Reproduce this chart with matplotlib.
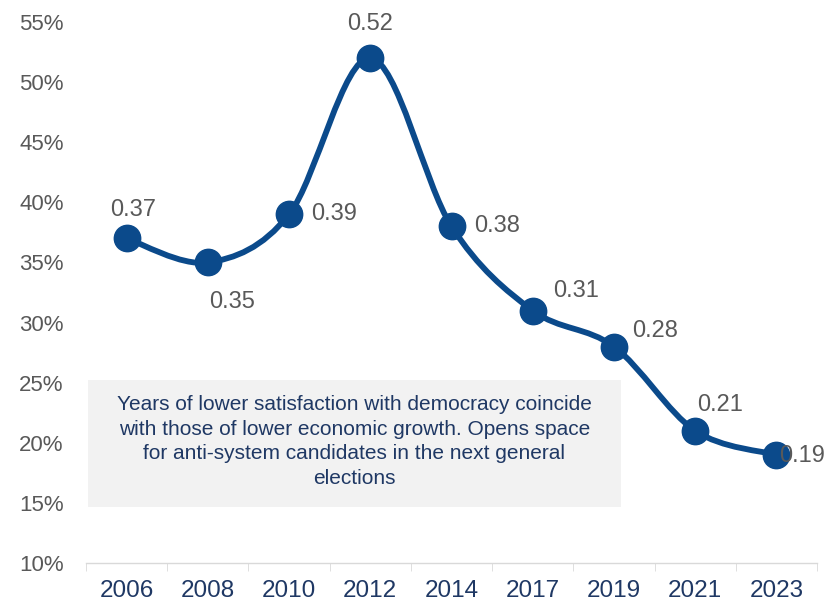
import numpy as np
import matplotlib
matplotlib.use("Agg")
import matplotlib.pyplot as plt
from matplotlib.path import Path
from matplotlib.patches import PathPatch, Rectangle
from matplotlib.ticker import FuncFormatter, MultipleLocator

# Datos
years = ["2006", "2008", "2010", "2012", "2014", "2017", "2019", "2021", "2023"]
values = [0.37, 0.35, 0.39, 0.52, 0.38, 0.31, 0.28, 0.21, 0.19]
note = ("Years of lower satisfaction with democracy coincide\n"
        "with those of lower economic growth. Opens space\n"
        "for anti-system candidates in the next general\n"
        "elections")

# posiciones de las etiquetas (offset en pixeles) y alineacion
label_off = [(6, 28), (24, -40), (22, 0), (0, 34), (23, 0), (20, 20), (18, 16), (25, 26), (3, -1)]
label_ha = ["center", "center", "left", "center", "left", "left", "left", "center", "left"]

navy = "#0B4A8B"
gray = "#595959"
textnavy = "#1F3864"

plt.rcParams["font.family"] = ["Liberation Sans", "DejaVu Sans"]

fig = plt.figure(figsize=(8.4, 6.03), dpi=100)
ax = fig.add_axes([0.1024, 0.0663, 0.8702, 0.8972])

x = np.arange(len(years))
y = np.array(values)

# linea suavizada (bezier tipo excel)
xp = np.concatenate([[x[0]], x, [x[-1]]])
yp = np.concatenate([[y[0]], y, [y[-1]]])
verts = [(x[0], y[0])]
codes = [Path.MOVETO]
for i in range(len(x) - 1):
    p0 = np.array([xp[i], yp[i]])
    p1 = np.array([xp[i + 1], yp[i + 1]])
    p2 = np.array([xp[i + 2], yp[i + 2]])
    p3 = np.array([xp[i + 3], yp[i + 3]])
    c1 = p1 + (p2 - p0) / 6
    c2 = p2 - (p3 - p1) / 6
    verts += [tuple(c1), tuple(c2), tuple(p2)]
    codes += [Path.CURVE4] * 3
ax.add_patch(PathPatch(Path(verts, codes), facecolor="none", edgecolor=navy,
                       lw=4.2, capstyle="round", joinstyle="round", zorder=3))
ax.plot(x, y, "o", color=navy, markersize=19, zorder=4)

for i in range(len(x)):
    ax.annotate(f"{values[i]:.2f}", (x[i], y[i]), xytext=label_off[i],
                textcoords="offset pixels", ha=label_ha[i], va="center",
                fontsize=17, color=gray, zorder=5)

# caja de texto
ax.add_patch(Rectangle((0.003, 0.1035), 0.729, 0.2345, transform=ax.transAxes,
                       facecolor="#F2F2F2", edgecolor="none", zorder=1))
ax.text(0.367, 0.2246, note, transform=ax.transAxes, ha="center", va="center",
        fontsize=15, color=textnavy, linespacing=1.38, zorder=2)

ax.set_xlim(-0.5, 8.5)
ax.set_ylim(0.10, 0.55)
ax.yaxis.set_major_locator(MultipleLocator(0.05))
ax.yaxis.set_major_formatter(FuncFormatter(lambda v, p: f"{v * 100:.0f}%"))
ax.set_xticks(x)
ax.set_xticklabels(years)
ax.set_xticks(np.arange(-0.5, 9, 1), minor=True)
ax.tick_params(axis="x", which="major", length=0, labelsize=17.5, labelcolor=textnavy, pad=12)
ax.tick_params(axis="x", which="minor", length=6, color="#D9D9D9")
ax.tick_params(axis="y", length=0, labelsize=16, labelcolor=gray, pad=16)

for s in ["top", "right", "left"]:
    ax.spines[s].set_visible(False)
ax.spines["bottom"].set_color("#D9D9D9")
ax.spines["bottom"].set_linewidth(1)

fig.savefig("out.png", dpi=100)
